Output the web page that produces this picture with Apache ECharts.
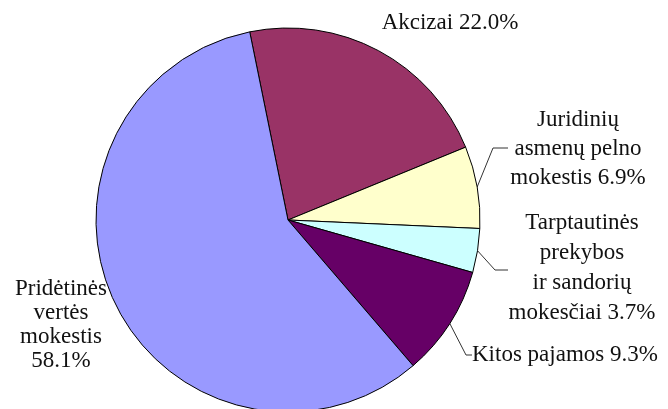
<!DOCTYPE html>
<html>
<head>
<meta charset="utf-8">
<script src="https://cdn.jsdelivr.net/npm/echarts@6/dist/echarts.min.js"></script>
<style>
html,body{margin:0;padding:0;background:#fff;}
#chart{width:668px;height:409px;}
</style>
</head>
<body>
<div id="chart"></div>
<script>
// Data
const categories = [
  'Akcizai',
  'Juridinių\nasmenų pelno\nmokestis',
  'Tarptautinės\nprekybos\nir sandorių\nmokesčiai',
  'Kitos pajamos',
  'Pridėtinės\nvertės\nmokestis'
];
const shares = [22.0, 6.9, 3.7, 9.3, 58.1];
const colors = ['#993366', '#FFFFCC', '#CCFFFF', '#660066', '#9999FF'];
const valueOnNewLine = [false, false, false, false, true];

// Label placement (style/layout)
const labelPos = [
  {x: 450, y: 23, align: 'center', line: false, lh: 28},
  {x: 578, y: 149, align: 'center', line: true, lh: 29, elbowX: 493, elbowY: 148, endX: 508},
  {x: 582, y: 268, align: 'center', line: true, lh: 30, elbowX: 495, elbowY: 270, endX: 508},
  {x: 472, y: 355, align: 'left', line: true, lh: 28, elbowX: 466, elbowY: 355, endX: 472},
  {x: 61, y: 325, align: 'center', line: false, lh: 24}
];

const chart = echarts.init(document.getElementById('chart'), null, {renderer: 'canvas'});
const data = categories.map((c, i) => ({
  name: c,
  value: shares[i],
  itemStyle: {color: colors[i]},
  label: {lineHeight: labelPos[i].lh},
  labelLine: {show: labelPos[i].line}
}));

chart.setOption({
  animation: false,
  series: [{
    type: 'pie',
    center: [288, 220],
    radius: 192,
    startAngle: 101.5,
    clockwise: true,
    avoidLabelOverlap: false,
    data: data,
    itemStyle: {borderColor: '#000', borderWidth: 1},
    label: {
      show: true,
      position: 'outside',
      fontFamily: 'Liberation Serif',
      fontSize: 23,
      color: '#111',
      formatter: p => p.name + (valueOnNewLine[p.dataIndex] ? '\n' : ' ') + p.value.toFixed(1) + '%'
    },
    labelLine: {
      show: true,
      lineStyle: {color: '#333', width: 1}
    },
    labelLayout: function (params) {
      const lp = labelPos[params.dataIndex];
      const out = {x: lp.x, y: lp.y, align: lp.align, verticalAlign: 'middle', hideOverlap: false, moveOverlap: null};
      if (lp.line && params.labelLinePoints) {
        const s = params.labelLinePoints[0];
        out.labelLinePoints = [[s[0], s[1]], [lp.elbowX, lp.elbowY], [lp.endX, lp.elbowY]];
      }
      return out;
    }
  }]
});
</script>
</body>
</html>
